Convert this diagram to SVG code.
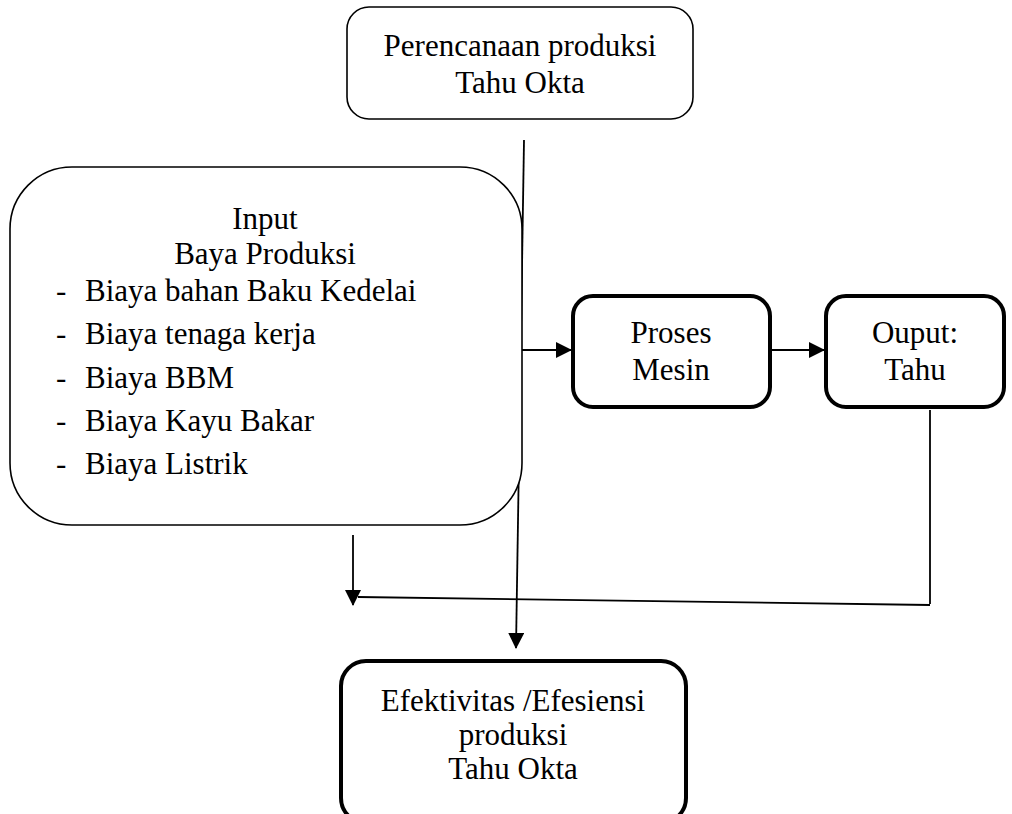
<svg xmlns="http://www.w3.org/2000/svg" width="1012" height="814" viewBox="0 0 1012 814">
<style>
text{font-family:"Liberation Serif","Times New Roman",serif;font-size:31px;fill:#000}
.c{text-anchor:middle}
.thin{fill:#fff;stroke:#000;stroke-width:1.6}
.thick{fill:#fff;stroke:#000;stroke-width:4}
.ln{fill:none;stroke:#000;stroke-width:1.8}
</style>
<defs>
<marker id="ah" markerWidth="16" markerHeight="16" viewBox="0 0 16 16" refX="15" refY="8" orient="auto" markerUnits="userSpaceOnUse">
<path d="M0,0 L16,8 L0,16 Z" fill="#000"/>
</marker>
</defs>
<rect width="1012" height="814" fill="#fff"/>
<g id="connectors">
<line class="ln" x1="524" y1="140" x2="516" y2="648" marker-end="url(#ah)"/>
<line class="ln" x1="521" y1="350" x2="571" y2="350" marker-end="url(#ah)"/>
<line class="ln" x1="772" y1="350" x2="824" y2="350" marker-end="url(#ah)"/>
<line class="ln" x1="930" y1="410" x2="930" y2="604"/>
<line class="ln" x1="930" y1="605" x2="358" y2="597"/>
<line class="ln" x1="353" y1="535" x2="353" y2="605" marker-end="url(#ah)"/>
</g>
<g id="plan">
<rect class="thin" x="347" y="7" width="346" height="112" rx="22"/>
<text class="c" x="520" y="56">Perencanaan produksi</text>
<text class="c" x="520" y="93">Tahu Okta</text>
</g>
<g id="input">
<rect class="thin" x="10" y="167" width="512" height="358" rx="62"/>
<text class="c" x="265" y="229">Input</text>
<text class="c" x="265" y="264">Baya Produksi</text>
<text x="56" y="301">-</text><text x="85" y="301">Biaya bahan Baku Kedelai</text>
<text x="56" y="344">-</text><text x="85" y="344">Biaya tenaga kerja</text>
<text x="56" y="388">-</text><text x="85" y="388">Biaya BBM</text>
<text x="56" y="431">-</text><text x="85" y="431">Biaya Kayu Bakar</text>
<text x="56" y="474">-</text><text x="85" y="474">Biaya Listrik</text>
</g>
<g id="proses">
<rect class="thick" x="573" y="296" width="197" height="111" rx="20"/>
<text class="c" x="671" y="343">Proses</text>
<text class="c" x="671" y="380">Mesin</text>
</g>
<g id="output">
<rect class="thick" x="826" y="296" width="178" height="111" rx="20"/>
<text class="c" x="915" y="343">Ouput:</text>
<text class="c" x="915" y="380">Tahu</text>
</g>
<g id="efektivitas">
<rect class="thick" x="341" y="661" width="345" height="162" rx="25"/>
<text class="c" x="513" y="711">Efektivitas /Efesiensi</text>
<text class="c" x="513" y="745">produksi</text>
<text class="c" x="513" y="779">Tahu Okta</text>
</g>
</svg>
